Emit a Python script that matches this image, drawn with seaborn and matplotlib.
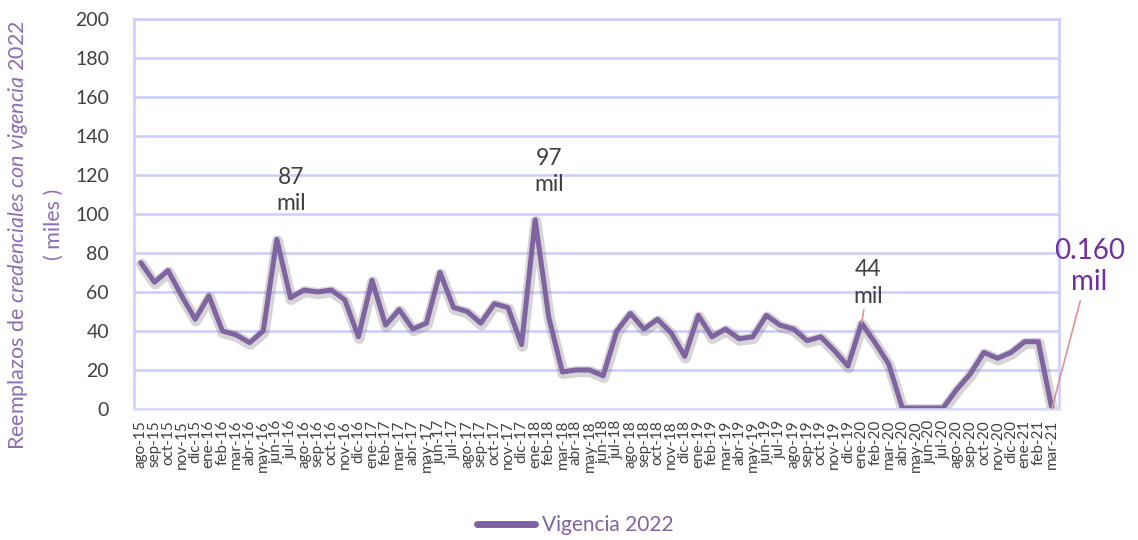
import matplotlib
matplotlib.use("Agg")
import matplotlib.pyplot as plt
import matplotlib.patheffects as pe
import seaborn as sns
import pandas as pd

# monthly replacements (miles), ago-15 .. mar-21
meses = ["ene", "feb", "mar", "abr", "may", "jun", "jul", "ago", "sep", "oct", "nov", "dic"]
etiquetas = [f"{m}-15" for m in meses[7:]]
for yy in range(16, 21):
    etiquetas += [f"{m}-{yy}" for m in meses]
etiquetas += [f"{m}-21" for m in meses[:3]]

valores = [
    75, 65, 71, 58, 46,
    58, 40, 38, 34, 40, 87, 57, 61, 60, 61, 56, 37,
    66, 43, 51, 41, 44, 70, 52, 50, 44, 54, 52, 33,
    97, 47, 19, 20, 20, 17, 40, 49, 41, 46, 39, 27,
    48, 37, 41, 36, 37, 48, 43, 41, 35, 37, 30, 22,
    44, 34, 23, 0.5, 0.5, 0.5, 0.5, 10, 18, 29, 26, 29,
    34.5, 34.5, 0.16,
]

# labelled peaks
destacados = [("jun-16", "87\nmil"), ("ene-18", "97\nmil")]

df = pd.DataFrame({"mes": etiquetas, "valor": valores})
df["pos"] = range(len(df))

sns.set_style("white")
plt.rcParams["font.family"] = ["Lato", "DejaVu Sans"]
plt.rcParams["mathtext.fontset"] = "custom"
plt.rcParams["mathtext.rm"] = "Lato"
plt.rcParams["mathtext.it"] = "Lato:italic"

PURPLE = "#8064A2"
GRID = "#CCCCFF"

fig = plt.figure(figsize=(11.38, 5.40), dpi=100)
ax = fig.add_axes([0.1178, 0.2426, 0.8125, 0.7224])

sns.lineplot(data=df, x="pos", y="valor", ax=ax, color=PURPLE, linewidth=3.6,
             label="Vigencia 2022",
             path_effects=[pe.SimpleLineShadow(offset=(0.5, -1.2), shadow_color="#777777",
                                               alpha=0.3, linewidth=8),
                           pe.Normal()])

ax.set_xlim(-0.5, len(df) - 0.5)
ax.set_ylim(0, 200)
ax.set_yticks(range(0, 201, 20))
ax.set_xticks(df["pos"])
ax.set_xticklabels(df["mes"], rotation=90, fontsize=11, color="#404040")
ax.tick_params(axis="y", labelsize=14, labelcolor="#404040", length=0, pad=18)
ax.tick_params(axis="x", length=0, pad=8)
ax.grid(axis="y", color=GRID, linewidth=1.8)
for s in ax.spines.values():
    s.set_color(GRID)
    s.set_linewidth(1.8)
ax.spines["bottom"].set_color("#D9DCF5")
ax.set_xlabel("")
ax.set_ylabel("")

# data labels
for mes, txt in destacados:
    i = etiquetas.index(mes)
    ax.annotate(txt, (i, valores[i]), xytext=(10, 18), textcoords="offset points",
                ha="center", va="bottom", fontsize=16.5, color="#404040", linespacing=1.3)

i44 = etiquetas.index("ene-20")
ax.annotate("44\nmil", (i44, valores[i44]), xytext=(5, 12), textcoords="offset points",
            ha="center", va="bottom", fontsize=16.5, color="#404040", linespacing=1.3,
            arrowprops=dict(arrowstyle="-", color="#D99594", lw=1.2, shrinkA=0, shrinkB=0))

ilast = len(valores) - 1
ax.annotate("0.160\nmil", (ilast, valores[ilast]), xytext=(27, 82), textcoords="offset points",
            ha="center", va="bottom", fontsize=20, color="#7030A0", linespacing=1.25,
            annotation_clip=False,
            arrowprops=dict(arrowstyle="-", color="#D99594", lw=1.2, shrinkA=2, shrinkB=0))

# y label with italic part
fig.text(0.016, 0.565, r"Reemplazos de $\it{credenciales\ con\ vigencia\ 2022}$",
         rotation=90, ha="center", va="center", fontsize=15.5, color="#8B6DB5")
fig.text(0.047, 0.585, "( miles )", rotation=90, ha="center", va="center",
         fontsize=15.5, color="#8B6DB5")

leg = ax.legend(loc="center", bbox_to_anchor=(0.477, -0.297), frameon=False,
                fontsize=15, handlelength=2.8, handletextpad=0.3)
for t in leg.get_texts():
    t.set_color(PURPLE)
for l in leg.get_lines():
    l.set_linewidth(5)
    l.set_path_effects([])

fig.savefig("out.png", dpi=100)
